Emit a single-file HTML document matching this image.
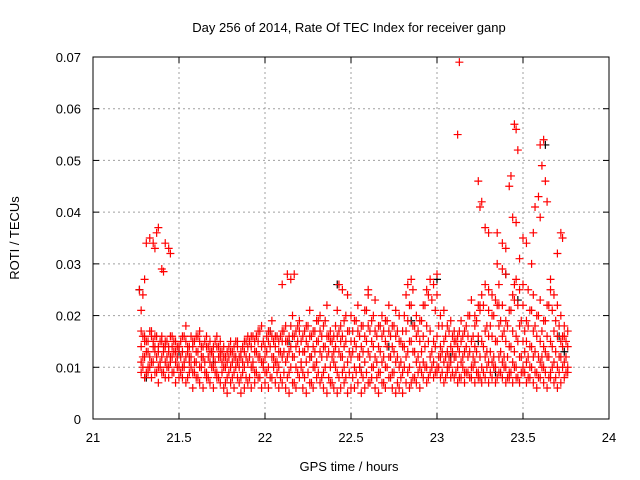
<!DOCTYPE html>
<html><head><meta charset="utf-8"><style>
body{margin:0;background:#fff}
svg{display:block;font-family:"Liberation Sans",sans-serif}
</style></head><body>
<svg id="chart" width="640" height="480" viewBox="0 0 640 480">
<rect width="640" height="480" fill="#fff"/>
<text x="349" y="32" font-size="13" text-anchor="middle">Day 256 of 2014, Rate Of TEC Index for receiver ganp</text>
<text x="349" y="471" font-size="13" text-anchor="middle">GPS time / hours</text>
<text x="19" y="238" font-size="13" text-anchor="middle" transform="rotate(-90 19 238)">ROTI / TECUs</text>
<g id="grid"></g>
<g id="marks"></g>
<g id="axes"></g>
</svg>
<script>
const xTicks=[21,21.5,22,22.5,23,23.5,24];
const xTickLabels=["21","21.5","22","22.5","23","23.5","24"];
const yTicks=[0,0.01,0.02,0.03,0.04,0.05,0.06,0.07];
const yTickLabels=["0","0.01","0.02","0.03","0.04","0.05","0.06","0.07"];
// band samples, values in 1e-3 TECU/s
const times=[21.28,21.30,21.32,21.34,21.36,21.38,21.40,21.42,21.44,21.46,21.48,21.50,
21.52,21.54,21.56,21.58,21.60,21.62,21.64,21.66,21.68,21.70,21.72,21.74,21.76,21.78,21.80,21.82,21.84,21.86,21.88,21.90,
21.92,21.94,21.96,21.98,22.00,22.02,22.04,22.06,22.08,22.10,
22.12,22.14,22.16,22.18,22.20,22.22,22.24,22.26,22.28,22.30,22.32,22.34,22.36,22.38,22.40,22.42,22.44,22.46,22.48,22.50,
22.52,22.54,22.56,22.58,22.60,22.62,22.64,22.66,22.68,22.70,22.72,22.74,22.76,22.78,22.80,22.82,22.84,22.86,22.88,22.90,
22.92,22.94,22.96,22.98,23.00,23.02,23.04,23.06,23.08,23.10,
23.12,23.14,23.16,23.18,23.20,23.22,23.24,23.26,23.28,23.30,
23.32,23.34,23.36,23.38,23.40,23.42,23.44,23.46,23.48,23.50,
23.52,23.54,23.56,23.58,23.60,23.62,23.64,23.66,23.68,23.70,23.72,23.74,23.76];
const bandLo=[9,8,9,8,9,7,9,8,8,9,7,8,
8,7,9,6,8,7,6,8,7,6,8,7,6,5,7,6,8,5,6,7,
6,7,8,6,7,6,8,7,6,7,
6,5,7,6,8,6,5,7,6,8,7,6,5,7,6,5,6,7,5,6,
6,7,5,6,7,8,6,5,7,6,8,6,5,6,5,7,6,8,7,6,
8,7,9,8,9,8,7,9,8,8,
7,8,7,9,8,7,8,7,8,7,
8,7,9,8,7,8,7,8,7,9,
7,8,7,6,8,7,6,8,7,6,7,8,9];
const bandMid1=[11,12,10,11,13,10,12,11,10,12,11,10,
10,12,11,9,11,10,12,9,11,10,9,12,10,8,10,9,11,8,10,11,
10,9,12,11,9,10,12,11,10,12,
11,9,12,10,13,9,11,12,10,11,13,9,12,10,11,9,12,10,11,12,
10,12,9,11,13,10,12,9,11,10,12,9,11,10,9,12,10,13,11,10,
11,10,12,11,10,12,11,10,11,12,
10,11,9,12,10,11,9,10,12,11,
11,10,12,11,10,9,11,10,12,10,
11,10,12,9,11,10,12,9,11,10,12,11,10];
const bandMid2=[14,15,13,16,14,13,15,14,13,14,13,14,
13,15,12,14,13,15,12,14,13,12,14,13,12,11,13,12,14,12,13,14,
14,13,15,14,12,15,16,14,13,15,
15,13,16,14,17,13,15,16,14,15,17,14,16,15,13,16,15,14,17,15,
15,17,14,16,18,15,17,14,16,15,17,14,16,15,14,17,15,18,16,15,
16,18,17,15,16,14,15,13,14,15,
14,15,13,16,15,14,16,15,17,16,
16,15,18,16,15,14,17,16,18,15,
15,14,17,16,15,14,16,15,17,16,15,16,14];
const bandHi=[17,16,15,17,16,14,16,15,14,16,15,14,
16,18,14,15,16,17,14,16,15,14,16,15,14,13,15,14,15,13,15,16,
16,15,17,18,14,17,19,16,15,17,
18,16,20,17,19,16,18,21,17,19,20,18,22,17,16,21,18,19,24,20,
19,22,18,21,24,19,23,18,20,19,22,18,21,20,17,24,22,25,20,19,
22,25,27,26,24,20,21,18,19,17,
16,19,17,20,23,18,22,24,26,21,
20,23,26,22,19,21,24,27,25,22,
19,21,24,20,23,19,22,25,24,22,20,18,17];
const timesB=[21.29,21.31,21.33,21.35,21.37,21.39,21.41,21.43,21.45,21.47,21.49,
21.51,21.53,21.55,21.57,21.59,21.61,21.63,21.65,21.67,21.69,21.71,21.73,21.75,21.77,21.79,21.81,21.83,21.85,21.87,21.89,
21.91,21.93,21.95,21.97,21.99,22.01,22.03,22.05,22.07,22.09,
22.11,22.13,22.15,22.17,22.19,22.21,22.23,22.25,22.27,22.29,22.31,22.33,22.35,22.37,22.39,22.41,22.43,22.45,22.47,22.49,
22.51,22.53,22.55,22.57,22.59,22.61,22.63,22.65,22.67,22.69,22.71,22.73,22.75,22.77,22.79,22.81,22.83,22.85,22.87,22.89,
22.91,22.93,22.95,22.97,22.99,23.01,23.03,23.05,23.07,23.09,
23.11,23.13,23.15,23.17,23.19,23.21,23.23,23.25,23.27,23.29,
23.31,23.33,23.35,23.37,23.39,23.41,23.43,23.45,23.47,23.49,
23.51,23.53,23.55,23.57,23.59,23.61,23.63,23.65,23.67,23.69,23.71,23.73,23.75];
const bandB1=[10,9,10,11,9,10,9,10,11,9,10,
9,10,8,10,9,8,10,9,8,10,9,8,9,7,9,8,10,7,9,8,
8,10,9,8,10,9,8,10,9,8,
9,8,10,7,9,10,8,9,7,10,9,8,10,8,7,10,8,9,8,9,
8,9,10,8,9,7,10,8,9,7,10,8,9,7,8,10,9,7,8,9,
9,10,8,10,9,10,9,8,10,9,
9,8,10,9,8,10,9,8,9,10,
9,10,8,9,10,8,9,10,8,9,
9,8,10,9,8,10,9,8,10,8,9,10,9];
const bandB2=[12,13,12,14,12,11,13,12,12,13,12,
12,11,13,12,11,13,12,11,12,13,11,12,11,10,12,11,12,10,11,12,
12,11,13,12,11,13,14,12,11,13,
13,12,14,12,15,11,13,14,12,13,15,12,14,13,12,14,13,12,15,13,
13,14,12,13,15,12,14,11,13,12,14,12,13,12,11,14,13,15,13,12,
13,14,15,13,14,12,13,12,12,13,
12,13,12,14,13,12,13,12,14,13,
13,12,15,13,12,12,14,13,15,12,
13,12,14,13,12,12,13,12,14,13,12,14,12];
const bandB3=[16,15,17,15,16,15,14,15,16,15,14,
15,16,14,16,15,16,14,15,14,13,15,14,13,12,14,13,15,12,14,15,
15,16,16,17,15,16,17,15,16,16,
17,15,18,16,18,15,17,18,16,17,19,16,19,16,15,18,17,16,20,17,
17,19,16,18,21,17,20,16,18,17,19,16,18,17,15,20,19,22,18,17,
19,22,24,23,21,18,18,16,17,16,
15,17,16,18,20,16,19,21,22,18,
18,20,22,19,17,18,21,23,22,19,
17,18,21,18,20,17,19,22,21,19,18,16,15];
const outlierT=[21.27,21.28,21.29,21.30,21.31,21.33,21.35,21.36,21.37,21.38,21.40,21.42,21.44,21.45,21.41,
22.10,22.13,22.15,22.17,22.43,22.45,22.60,22.83,22.85,23.00,
23.13,23.12,23.24,23.26,23.25,23.28,23.30,23.35,23.38,23.42,23.43,23.45,23.46,23.47,23.44,23.46,23.50,23.52,23.48,23.40,23.35,23.38,
23.60,23.62,23.61,23.63,23.64,23.59,23.57,23.60,23.56,23.70,23.72,23.73,23.55,23.66,23.30,23.32,23.25,23.40,23.45,23.36,23.50,23.53,23.22];
const outlierV=[25,21,24,27,34,35,34,33,36,37,29,34,33,32,28.5,
26,28,27,28,26,25,25,26,27,28,
69,55,46,42,41,37,36,36,34,45,47,57,56,52,39,38,35,34,31,33,30,29,
53,54,49,46,42,43,41,39,36,32,36,35,30,27,25,24,22,28,26,22,26,25,20];
const blackT=[21.27,21.31,21.50,21.70,22.03,22.14,22.27,22.42,22.55,22.72,22.85,23.00,23.08,23.24,23.40,23.47,23.63,23.71,23.74,23.34];
const blackV=[25,8,13,11,17,15,12,26,10,14,19,27,12,15,28,23,53,16,13,9];

const X0=93,X1=609,Y0=419,Y1=57;
const xs=v=>X0+(v-21)/(24-21)*(X1-X0);
const ys=v=>Y0-(v/0.07)*(Y0-Y1);
const NS="http://www.w3.org/2000/svg";
const grid=document.getElementById('grid'),marks=document.getElementById('marks'),axes=document.getElementById('axes');
function mk(tag,attrs,parent){const e=document.createElementNS(NS,tag);for(const k in attrs)e.setAttribute(k,attrs[k]);parent.appendChild(e);return e;}
xTicks.forEach((v,i)=>{const x=xs(v);
 if(i>0&&i<xTicks.length-1){const g=mk('line',{x1:x,x2:x,y1:Y1,y2:Y0,stroke:'#a0a0a0','stroke-dasharray':'2,3'},grid);
 
 }
 const t=mk('line',{x1:x,x2:x,y1:Y0,y2:Y0-6,stroke:'#000'},axes);
 const t2=mk('line',{x1:x,x2:x,y1:Y1,y2:Y1+6,stroke:'#000'},axes);
 const l=mk('text',{x:x,y:442,'font-size':13,'text-anchor':'middle'},axes);l.textContent=xTickLabels[i];
 
 });
yTicks.forEach((v,i)=>{const y=ys(v);
 if(i>0&&i<yTicks.length-1){const g=mk('line',{x1:X0,x2:X1,y1:y,y2:y,stroke:'#a0a0a0','stroke-dasharray':'2,3'},grid);
 
 }
 const t=mk('line',{x1:X0,x2:X0+6,y1:y,y2:y,stroke:'#000'},axes);
 const t2=mk('line',{x1:X1,x2:X1-6,y1:y,y2:y,stroke:'#000'},axes);
 const l=mk('text',{x:81,y:y+5,'font-size':13,'text-anchor':'end'},axes);l.textContent=yTickLabels[i];
 
 });
const fr=mk('rect',{x:X0,y:Y1,width:X1-X0,height:Y0-Y1,fill:'none',stroke:'#000'},axes);


function plus(t,v,color,name){const x=xs(t),y=ys(v);
 const p=mk('path',{d:`M${x-4},${y}H${x+4}M${x},${y-4}V${y+4}`,stroke:color,'stroke-width':1.2,fill:'none'},marks);
 
 }
blackT.forEach((t,i)=>plus(t,blackV[i]/1000,'#000','black-point'));
[bandLo,bandMid1,bandMid2,bandHi].forEach(arr=>times.forEach((t,i)=>plus(t,arr[i]/1000,'#ff0000','roti-point')));
[bandB1,bandB2,bandB3].forEach(arr=>timesB.forEach((t,i)=>plus(t,arr[i]/1000,'#ff0000','roti-point')));
outlierT.forEach((t,i)=>plus(t,outlierV[i]/1000,'#ff0000','roti-outlier'));
</script>
</body></html>
